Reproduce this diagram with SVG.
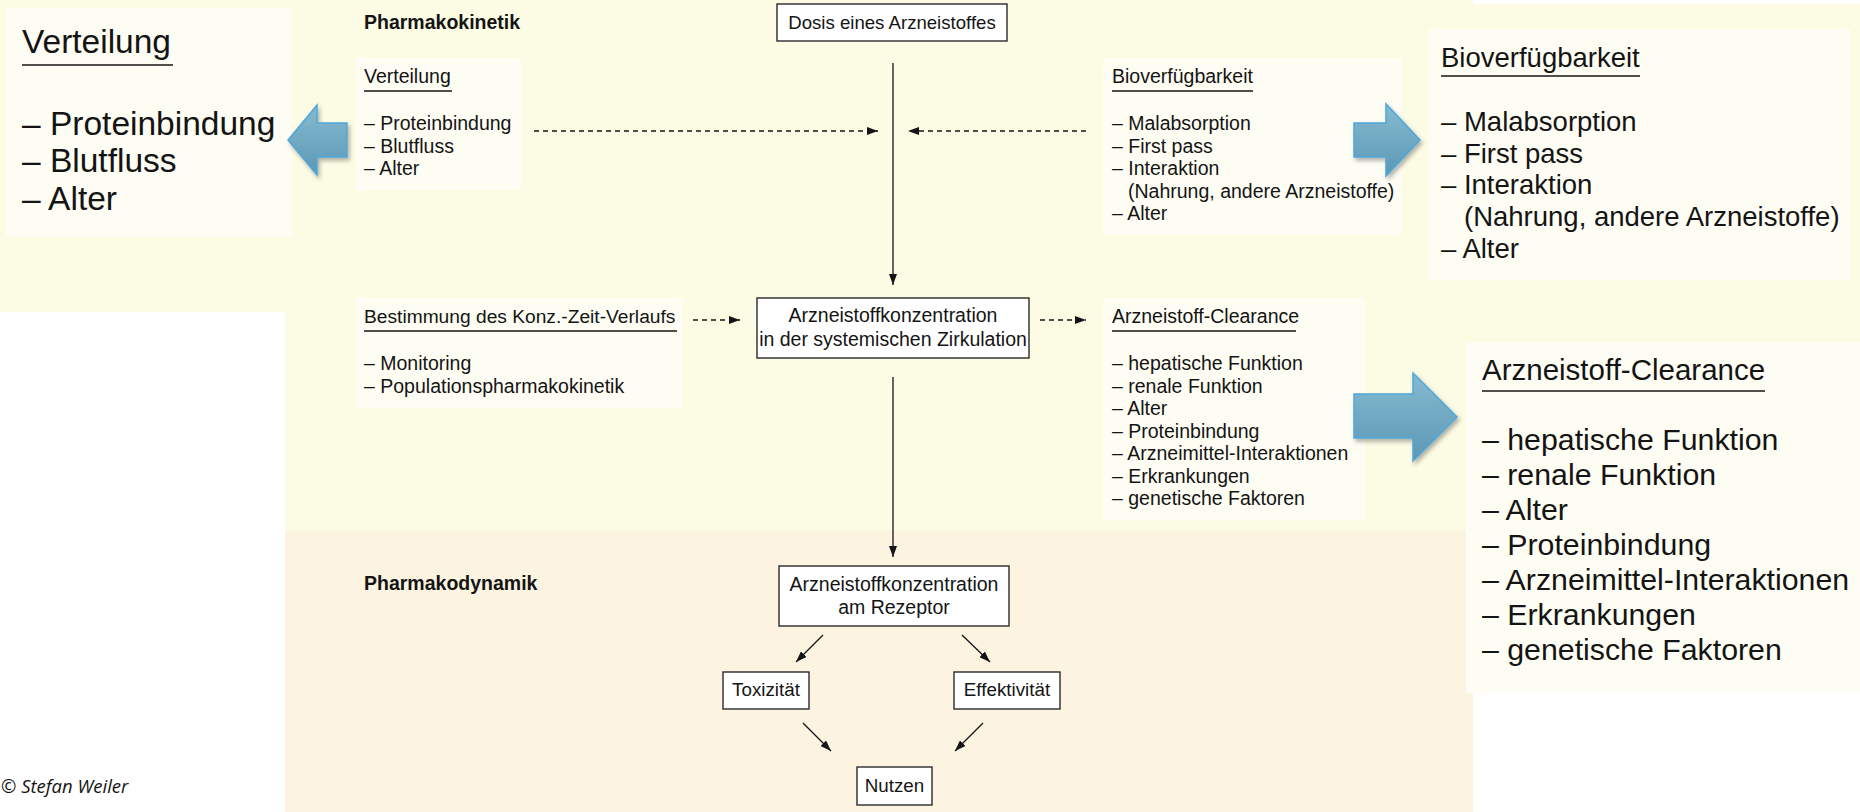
<svg xmlns="http://www.w3.org/2000/svg" width="1860" height="812" viewBox="0 0 1860 812">
<defs>
<style>
.t{font-family:"Liberation Sans",Arial,sans-serif;fill:#141414}
.s{font-size:19.5px}
.hd{font-size:19.5px;font-weight:bold}
.box{fill:#ffffff;stroke:#2a2a2a;stroke-width:1.4}
.panel{fill:#fefdf3}
.ul{stroke:#141414;stroke-width:1.4}
.conn{stroke:#141414;stroke-width:1.3;fill:none}
.dash{stroke-dasharray:5 4}
.big{fill:url(#blueGrad);stroke:#4ea6dc;stroke-width:1.5;filter:url(#sh)}
.copy{font-family:"Open Sans","Liberation Sans",sans-serif;font-style:italic;font-size:18.5px;fill:#141414}
</style>
<linearGradient id="blueGrad" x1="0" y1="0" x2="0" y2="1">
<stop offset="0" stop-color="#86bbd1"/>
<stop offset="1" stop-color="#5c97b4"/>
</linearGradient>
<filter id="sh" x="-20%" y="-20%" width="150%" height="150%">
<feDropShadow dx="2" dy="3" stdDeviation="2" flood-color="#000" flood-opacity="0.3"/>
</filter>
<marker id="ah" markerUnits="userSpaceOnUse" markerWidth="11" markerHeight="8" refX="11" refY="4" orient="auto">
<path d="M0,0 L11,4 L0,8 z" fill="#141414"/>
</marker>
</defs>

<g id="background">
<rect x="0" y="0" width="1860" height="812" fill="#ffffff"/>
<rect x="0" y="0" width="1473" height="312" fill="#fcfbe4"/>
<rect x="285" y="0" width="1188" height="530" fill="#fcfbe4"/>
<rect x="1473" y="4" width="387" height="600" fill="#fcfbe4"/>
<rect x="285" y="530" width="1188" height="282" fill="#fcf3e1"/>
</g>

<g id="label-pharmakokinetik"><text class="t hd" x="364" y="29">Pharmakokinetik</text></g>
<g id="label-pharmakodynamik"><text class="t hd" x="364" y="590">Pharmakodynamik</text></g>

<g id="big-verteilung">
<rect class="panel" x="5" y="8" width="287" height="229"/>
<text class="t" x="22" y="53" font-size="33.5">Verteilung</text>
<line class="ul" x1="22" y1="65" x2="173" y2="65" stroke-width="2"/>
<text class="t" font-size="33.5"><tspan x="22" y="135">– Proteinbindung</tspan><tspan x="22" y="172">– Blutfluss</tspan><tspan x="22" y="210">– Alter</tspan></text>
</g>

<g id="verteilung">
<rect class="panel" x="356" y="58" width="165" height="132"/>
<text class="t s" x="364" y="83">Verteilung</text>
<line class="ul" x1="364" y1="91" x2="452" y2="91"/>
<text class="t s"><tspan x="364" y="130">– Proteinbindung</tspan><tspan x="364" y="152.5">– Blutfluss</tspan><tspan x="364" y="175">– Alter</tspan></text>
</g>

<g id="bioverfuegbarkeit">
<rect class="panel" x="1103" y="58" width="299" height="177"/>
<text class="t s" x="1112" y="83">Bioverfügbarkeit</text>
<line class="ul" x1="1112" y1="91" x2="1253" y2="91"/>
<text class="t s"><tspan x="1112" y="130">– Malabsorption</tspan><tspan x="1112" y="152.5">– First pass</tspan><tspan x="1112" y="175">– Interaktion</tspan><tspan x="1128" y="197.5">(Nahrung, andere Arzneistoffe)</tspan><tspan x="1112" y="220">– Alter</tspan></text>
</g>

<g id="big-bioverfuegbarkeit">
<rect class="panel" x="1428" y="29" width="423" height="251"/>
<text class="t" x="1441" y="67" font-size="27.5">Bioverfügbarkeit</text>
<line class="ul" x1="1441" y1="76" x2="1640" y2="76" stroke-width="2"/>
<text class="t" font-size="27.5"><tspan x="1441" y="131">– Malabsorption</tspan><tspan x="1441" y="162.5">– First pass</tspan><tspan x="1441" y="194">– Interaktion</tspan><tspan x="1464" y="226">(Nahrung, andere Arzneistoffe)</tspan><tspan x="1441" y="258">– Alter</tspan></text>
</g>

<g id="dosis">
<rect class="box" x="777" y="4" width="230" height="37"/>
<text class="t" x="892" y="29" font-size="18.6" text-anchor="middle">Dosis eines Arzneistoffes</text>
</g>

<g id="bestimmung">
<rect class="panel" x="356" y="298" width="327" height="110"/>
<text class="t" x="364" y="323" font-size="19.2">Bestimmung des Konz.-Zeit-Verlaufs</text>
<line class="ul" x1="364" y1="331" x2="677" y2="331"/>
<text class="t s"><tspan x="364" y="370">– Monitoring</tspan><tspan x="364" y="392.5">– Populationspharmakokinetik</tspan></text>
</g>

<g id="konz-systemisch">
<rect class="box" x="757" y="298" width="272" height="60"/>
<text class="t s" text-anchor="middle"><tspan x="893" y="322">Arzneistoffkonzentration</tspan><tspan x="893" y="346">in der systemischen Zirkulation</tspan></text>
</g>

<g id="clearance">
<rect class="panel" x="1103" y="298" width="262" height="222"/>
<text class="t s" x="1112" y="323">Arzneistoff-Clearance</text>
<line class="ul" x1="1112" y1="331" x2="1296" y2="331"/>
<text class="t s"><tspan x="1112" y="370">– hepatische Funktion</tspan><tspan x="1112" y="392.5">– renale Funktion</tspan><tspan x="1112" y="415">– Alter</tspan><tspan x="1112" y="437.5">– Proteinbindung</tspan><tspan x="1112" y="460">– Arzneimittel-Interaktionen</tspan><tspan x="1112" y="482.5">– Erkrankungen</tspan><tspan x="1112" y="505">– genetische Faktoren</tspan></text>
</g>

<g id="big-clearance">
<rect class="panel" x="1466" y="342" width="394" height="351"/>
<text class="t" x="1482" y="380" font-size="29.5">Arzneistoff-Clearance</text>
<line class="ul" x1="1482" y1="391" x2="1765" y2="391" stroke-width="2"/>
<text class="t" font-size="30.3"><tspan x="1482" y="450">– hepatische Funktion</tspan><tspan x="1482" y="485">– renale Funktion</tspan><tspan x="1482" y="520">– Alter</tspan><tspan x="1482" y="555">– Proteinbindung</tspan><tspan x="1482" y="590">– Arzneimittel-Interaktionen</tspan><tspan x="1482" y="625">– Erkrankungen</tspan><tspan x="1482" y="660">– genetische Faktoren</tspan></text>
</g>

<g id="konz-rezeptor">
<rect class="box" x="779" y="566" width="230" height="60"/>
<text class="t s" text-anchor="middle"><tspan x="894" y="591">Arzneistoffkonzentration</tspan><tspan x="894" y="614">am Rezeptor</tspan></text>
</g>

<g id="toxizitaet">
<rect class="box" x="723" y="672" width="86" height="37"/>
<text class="t" x="766" y="696" font-size="18.8" text-anchor="middle">Toxizität</text>
</g>

<g id="effektivitaet">
<rect class="box" x="954" y="672" width="106" height="37"/>
<text class="t" x="1007" y="696" font-size="18.8" text-anchor="middle">Effektivität</text>
</g>

<g id="nutzen">
<rect class="box" x="857" y="767" width="75" height="38"/>
<text class="t" x="894.5" y="792" font-size="18.8" text-anchor="middle">Nutzen</text>
</g>

<g id="copyright"><text class="copy" x="1" y="793">© Stefan Weiler</text></g>

<g id="connectors">
<line class="conn" x1="893" y1="63" x2="893" y2="285" marker-end="url(#ah)"/>
<line class="conn dash" x1="534" y1="131" x2="878" y2="131" marker-end="url(#ah)"/>
<line class="conn dash" x1="1086" y1="131" x2="908" y2="131" marker-end="url(#ah)"/>
<line class="conn dash" x1="693" y1="320" x2="740" y2="320" marker-end="url(#ah)"/>
<line class="conn dash" x1="1040" y1="320" x2="1086" y2="320" marker-end="url(#ah)"/>
<line class="conn" x1="893" y1="377" x2="893" y2="557" marker-end="url(#ah)"/>
<line class="conn" x1="823" y1="635" x2="796" y2="662" marker-end="url(#ah)"/>
<line class="conn" x1="962" y1="635" x2="990" y2="662" marker-end="url(#ah)"/>
<line class="conn" x1="803" y1="723" x2="831" y2="751" marker-end="url(#ah)"/>
<line class="conn" x1="983" y1="723" x2="955" y2="751" marker-end="url(#ah)"/>
<polygon class="big" points="347,123 317,123 317,105 288,140 317,175 317,157 347,157"/>
<polygon class="big" points="1354,123 1386,123 1386,104 1420,140 1386,176 1386,157 1354,157"/>
<polygon class="big" points="1354,394 1413,394 1413,373 1457,417 1413,461 1413,438 1354,438"/>
</g>
</svg>
